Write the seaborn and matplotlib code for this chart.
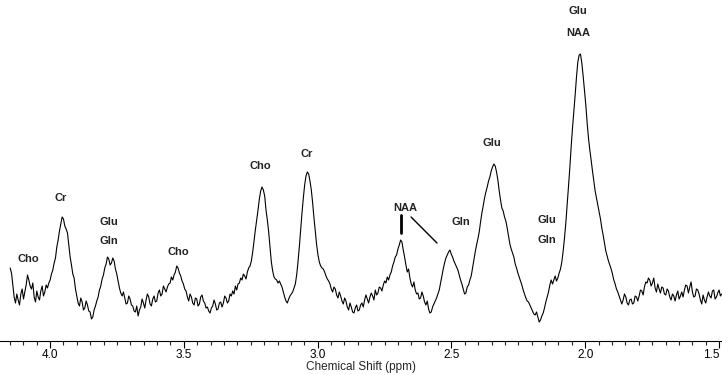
import numpy as np
import pandas as pd
import seaborn as sns
import matplotlib
matplotlib.use("Agg")
import matplotlib.pyplot as plt
from matplotlib.ticker import MultipleLocator

# chemical shift axis (ppm), ~0.005 ppm steps from 4.15 down to 1.49
ppm = np.linspace(4.149, 1.49, 535)

# signal intensity (arbitrary units), 0.1 ppm per row
intensity = [
    73, 68, 56, 44, 38, 47, 41, 36, 47, 52, 42, 49, 56, 66, 61, 55, 52, 58, 44, 39,
    50, 44, 41, 50, 55, 45, 49, 56, 53, 58, 61, 67, 71, 78, 83, 94, 101, 110, 117, 124,
    122, 115, 112, 108, 96, 84, 76, 67, 63, 52, 45, 38, 35, 43, 39, 31, 33, 40, 36, 30,
    29, 22, 24, 31, 35, 40, 44, 51, 55, 62, 66, 73, 77, 84, 82, 76, 78, 83, 80, 72,
    67, 60, 53, 48, 45, 49, 43, 37, 38, 45, 42, 36, 35, 30, 29, 35, 25, 31, 34, 42,
    38, 33, 41, 47, 44, 37, 35, 42, 45, 39, 40, 48, 51, 45, 47, 55, 52, 49, 54, 57,
    58, 64, 61, 66, 69, 75, 73, 68, 65, 60, 57, 52, 50, 44, 40, 47, 44, 38, 36, 43,
    42, 35, 37, 44, 46, 40, 38, 33, 34, 30, 28, 33, 35, 41, 37, 31, 32, 38, 39, 34,
    38, 45, 43, 38, 40, 47, 45, 50, 47, 55, 51, 57, 58, 63, 61, 67, 65, 62, 69, 73,
    75, 80, 89, 100, 111, 121, 131, 142, 150, 154, 151, 145, 131, 121, 109, 94, 79, 70, 64, 62,
    61, 58, 60, 57, 54, 49, 44, 40, 38, 42, 45, 47, 49, 53, 57, 66, 79, 94, 111, 128,
    143, 156, 165, 169, 167, 160, 151, 138, 123, 109, 96, 86, 79, 75, 73, 72, 69, 65, 62, 60,
    57, 52, 49, 54, 52, 46, 43, 49, 45, 40, 37, 43, 40, 34, 31, 38, 34, 29, 28, 33,
    36, 30, 31, 36, 38, 34, 41, 46, 42, 38, 44, 48, 45, 41, 51, 46, 48, 54, 53, 50,
    56, 60, 58, 64, 61, 66, 69, 75, 79, 84, 86, 92, 96, 101, 99, 91, 84, 76, 69, 72,
    63, 57, 54, 59, 51, 47, 48, 42, 43, 49, 45, 39, 36, 40, 32, 28, 29, 34, 37, 40,
    43, 47, 51, 58, 65, 72, 78, 83, 86, 89, 91, 87, 84, 80, 77, 74, 71, 66, 61, 57,
    52, 47, 48, 54, 56, 61, 65, 73, 81, 89, 96, 102, 109, 119, 128, 135, 143, 149, 154, 160,
    164, 170, 174, 177, 175, 169, 161, 150, 141, 133, 130, 124, 120, 113, 105, 97, 92, 88, 84, 77,
    73, 68, 64, 60, 56, 51, 47, 43, 40, 39, 36, 33, 30, 27, 26, 29, 24, 19, 21, 25,
    28, 33, 39, 44, 49, 56, 61, 57, 61, 65, 60, 63, 68, 72, 79, 90, 103, 118, 136, 155,
    173, 194, 213, 230, 246, 264, 279, 286, 287, 278, 265, 251, 236, 218, 203, 191, 181, 170, 160, 150,
    143, 136, 129, 122, 113, 106, 98, 90, 85, 80, 76, 72, 67, 61, 57, 52, 49, 45, 41, 37,
    41, 47, 44, 38, 36, 41, 42, 37, 38, 45, 44, 40, 45, 51, 50, 46, 54, 59, 58, 63,
    61, 55, 58, 63, 53, 49, 57, 52, 48, 54, 53, 47, 46, 52, 50, 44, 41, 47, 45, 40,
    46, 50, 42, 45, 49, 44, 51, 56, 55, 48, 54, 59, 49, 44, 45, 52, 51, 47, 41, 37,
    46, 41, 38, 44, 49, 45, 43, 50, 51, 42, 44, 48, 51, 45, 47,
]

# peak assignments: text, ppm, height
peak_labels = ["Cho", "Cr", "Glu", "Gln", "Cho", "Cho", "Cr", "NAA",
               "Gln", "Glu", "Glu", "Gln", "Glu", "NAA"]
label_ppm = [4.082, 3.959, 3.780, 3.780, 3.522, 3.215, 3.040, 2.674,
             2.464, 2.348, 2.143, 2.143, 2.027, 2.027]
label_height = [82, 143, 119, 100, 89, 175, 187, 133,
                119, 198, 121, 101, 330, 308]

df = pd.DataFrame({"ppm": ppm, "intensity": intensity})

sns.set_style("white")
plt.rcParams["font.family"] = ["Liberation Sans", "DejaVu Sans"]

fig = plt.figure(figsize=(7.22, 3.75), dpi=100)
ax = fig.add_axes([0, 34 / 375, 1, 341 / 375])

sns.lineplot(data=df, x="ppm", y="intensity", color="black", linewidth=0.8, ax=ax)

for txt, xp, yp in zip(peak_labels, label_ppm, label_height):
    ax.text(xp, yp, txt, ha="center", va="center", fontsize=8, fontweight="bold",
            color="#222222")

# NAA pointer lines
ax.plot([2.689, 2.689], [108, 126], color="black", linewidth=2)
ax.plot([2.651, 2.554], [124, 98], color="black", linewidth=1)

ax.set_xlim(4.187, 1.489)
ax.set_ylim(0, 341)
ax.set_yticks([])
ax.set_ylabel("")
ax.set_xlabel("Chemical Shift (ppm)", fontsize=8.5, labelpad=0)
ax.xaxis.set_major_locator(MultipleLocator(0.5))
ax.xaxis.set_minor_locator(MultipleLocator(0.05))
ax.xaxis.set_major_formatter(plt.FuncFormatter(lambda v, p: f"{v:.1f}"))
ax.tick_params(axis="x", which="major", direction="out", length=5, width=0.8,
               labelsize=8.5, pad=1, bottom=True, colors="black")
ax.tick_params(axis="x", which="minor", direction="out", length=3, width=0.8, bottom=True)
for side in ["left", "right", "top"]:
    ax.spines[side].set_visible(False)
ax.spines["bottom"].set_color("black")
ax.spines["bottom"].set_linewidth(0.8)

# keep the 1.5 label inside the figure edge
fig.canvas.draw()
for lab in ax.get_xticklabels():
    if lab.get_text() == "1.5":
        lab.set_horizontalalignment("right")

fig.savefig("out.png", dpi=100)
